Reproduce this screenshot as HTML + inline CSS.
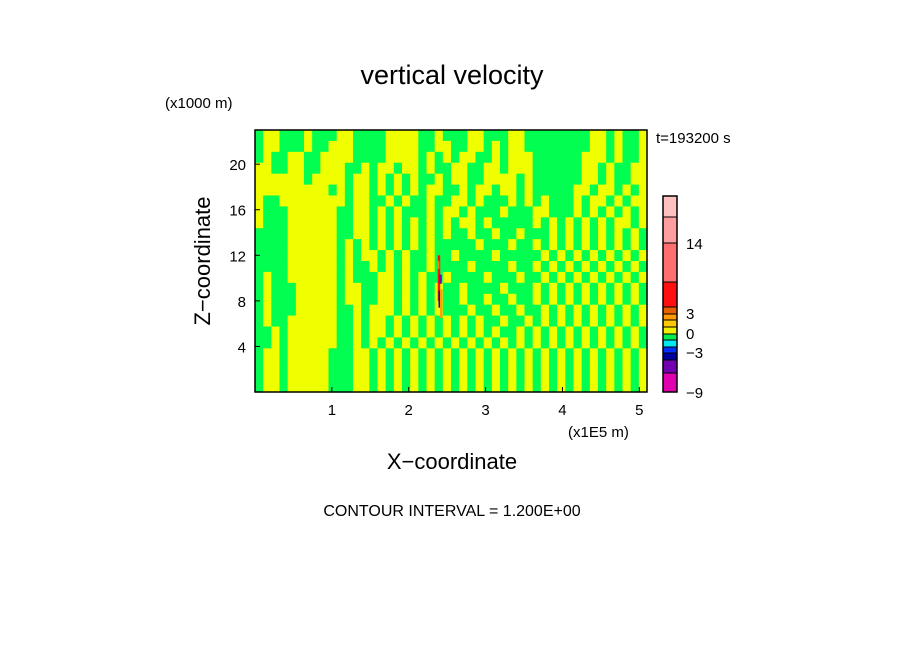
<!DOCTYPE html>
<html><head><meta charset="utf-8">
<style>
html,body{margin:0;padding:0;background:#fff;}
svg{display:block;font-family:"Liberation Sans",sans-serif;}
</style></head>
<body>
<svg id="chart" width="904" height="654" viewBox="0 0 904 654">
<text x="452" y="84" text-anchor="middle" font-size="27">vertical velocity</text>
<text x="165" y="108" font-size="15">(x1000 m)</text>
<text x="656" y="143" font-size="15">t=193200 s</text>
<text x="568" y="437" font-size="15">(x1E5 m)</text>
<text x="452" y="469" text-anchor="middle" font-size="22">X−coordinate</text>
<text x="0" y="0" text-anchor="middle" font-size="22" transform="translate(210,261) rotate(-90)">Z−coordinate</text>
<text x="452" y="516" text-anchor="middle" font-size="16">CONTOUR INTERVAL = 1.200E+00</text>
<g id="field"></g>
<g id="xt"></g>
<g id="yt"></g>
<g id="cb"></g>
<rect x="255" y="130" width="392" height="262" fill="none" stroke="#000" stroke-width="1.5"/>
</svg>
<script>
const xTicks=[1,2,3,4,5];
const yTicks=[4,8,12,16,20];
const fieldRows=[
"GYYGGGYGGGYYGGGGYYYYGGYGGGYYGGGYYGGGGGGGGYYGYGGY",
"GYYGGGYGGYYYGGGGYYYYGGYYGGYYGYGYYGGGGGGGGYYGYGGY",
"GYGGYYGGYYYYGGGGYYYYGYGYGYYGGYGYYYGGGGGGYYYGYGGY",
"YYGGYYGGYYYGGYGYYGYYGYGGYYGGYYGYYYGGGGGGYYGYGGYY",
"YYYYYYGYYYYGYYGYGYGYGGYGYYGGYYYYGYGGGGGGYYGYGGYY",
"YYYYYYYYYGYGYYGYGYGYGYYGGYGYYGYYGYGGGGGYYGYYGYGY",
"YGGYYYYYYYYGYYGGYGYGGYGGYYGYGGGYGYGYGGGYGYYGYGYY",
"YGGGYYYYYYGGYYGYGYGGGYGYYGYGGGYGGGYYGGGYGYGYGYGY",
"YGGGYYYYYYGGYYGYGYGYGYGYGYYGYGGGGGYGYGYGYGYGYYGY",
"GGGGYYYYYYGGYYGYGYGYGYGYGGYGGYGGYGGGYGYGYGYGYGYG",
"GGGGYYYYYYGYGYGYGYGYGYGGGGGYGGGYGGYGYGYGYGYGYGYG",
"GGGGYYYYYYGYGYYGYGYGGYGGYGGGGYGGGGGYGYGYGYGYGYGY",
"GGGGYYYYYYGYGGYGYGYGGYGGGGYGGGGYGGYGYGYGYGYGYGYG",
"GYGGYYYYYYGYGGGYYGYGYGGYGGGGYGGGYGGYGYGYGYGYGYGY",
"GYGGGYYYYYGYYGGYYGYGYGYGGYGGGGYGGGYGYGYGYGYGYGYG",
"GYGGGYYYYYGYYGGYYGYGYGYGGYGGYGGYGGYGYGYGYGYGYGYG",
"GYGGGYYYYYGGYGYYYGYGYGYGGGYGGYGGYGGYGYGYGYGYGYGY",
"GYGGYYYYYYGGYGYYGYGYGYGYGYGYGGYGGYGYGYGYGYGYGYGY",
"GGYGYYYYYYGGYGYYGYGYGYGYGYGYGYGGYGYGYGYGYGYGYGYG",
"GGYGYYYYYYGGYGYGYGYGYGYGYGYGYGYGYGYGYGYGYGYGYGYG",
"GYYGYYYYYGGGYYGYGYGYGYGYGYGYGYGYGYGYGYGYGYGYGYGY",
"GYYGYYYYYGGGYYGYGYGYGYGYGYGYGYGYGYGYGYGYGYGYGYGY",
"GYYGYYYYYGGGYYGYGYGYGYGYGYGYGYGYGYGYGYGYGYGYGYGY",
"GYYGYYYYYGGGYYGYGYGYGYGYGYGYGYGYGYGYGYGYGYGYGYGY"];
const anomalyX=[2.39,2.40,2.41,2.38,2.42];
const anomalyZ0=[8.0,7.4,9.5,10.8,6.5];
const anomalyZ1=[12.0,8.9,10.3,11.5,9.0];
const anomalyColor=["#ff1010","#1010a0","#7000b0","#ff8000","#ffa000"];
const cbLevels=["-9","-3","0","3","14"];
const cbColors=["#ff6f6f","#ff9e9e","#ffc0c0","#ff1010","#e86000","#ff9a00","#ffc800","#f0f000","#00ee50","#00e8f0","#0030ff","#0000a0","#7000b0","#e000b0"];
const cbEdges=[243,217,196,282,307,314,320,327,334,340,347,353,360,373];
const cbBottoms=[282,243,217,307,314,320,327,334,340,347,353,360,373,392];
const cbTickY=[392,352,333,313,243];

const NS="http://www.w3.org/2000/svg";
const X0=255,X1=647,Y0=392,Y1=130,XMAX=5.1,ZMAX=23;
const sx=v=>X0+v/XMAX*(X1-X0);
const sz=v=>Y0-v/ZMAX*(Y0-Y1);
function mk(tag,a,parent){const e=document.createElementNS(NS,tag);for(const k in a)e.setAttribute(k,a[k]);parent.appendChild(e);return e;}

const field=document.getElementById('field');
const nR=fieldRows.length,nC=fieldRows[0].length;
const cw=(X1-X0)/nC,rh=(Y0-Y1)/nR;
for(let r=0;r<nR;r++){for(let c=0;c<nC;c++){
  const ch=fieldRows[r][c];
  const e=mk('rect',{x:X0+c*cw,y:Y1+r*rh,width:cw+0.6,height:rh+0.6,fill:ch==='G'?'#00ff50':'#f0ff00'},field);
  
  
}}
for(let i=0;i<anomalyX.length;i++){
  const e=mk('rect',{x:sx(anomalyX[i])-1,y:sz(anomalyZ1[i]),width:2.5,height:sz(anomalyZ0[i])-sz(anomalyZ1[i]),fill:anomalyColor[i]},field);
  
  
}
const xt=document.getElementById('xt');
xTicks.forEach(v=>{
  mk('line',{x1:sx(v),x2:sx(v),y1:Y0,y2:Y0-5,stroke:'#000'},xt);
  const t=mk('text',{x:sx(v),y:415,'text-anchor':'middle','font-size':15},xt);
  t.textContent=v;
  
  
});
const yt=document.getElementById('yt');
yTicks.forEach(v=>{
  mk('line',{x1:X0,x2:X0+5,y1:sz(v),y2:sz(v),stroke:'#000'},yt);
  const t=mk('text',{x:246,y:sz(v)+6,'text-anchor':'end','font-size':15},yt);
  t.textContent=v;
  
  
});
const cb=document.getElementById('cb');
cbColors.forEach((c,i)=>{
  const e=mk('rect',{x:663,y:cbEdges[i],width:14,height:cbBottoms[i]-cbEdges[i],fill:c,stroke:'#000','stroke-width':1},cb);
  
  
});
mk('rect',{x:663,y:196,width:14,height:196,fill:'none',stroke:'#000','stroke-width':1.5},cb);
cbLevels.forEach((l,i)=>{
  const t=mk('text',{x:686,y:cbTickY[i]+6,'font-size':15},cb);
  t.textContent=l.replace('-','−');
  
  
});
</script>
</body></html>
